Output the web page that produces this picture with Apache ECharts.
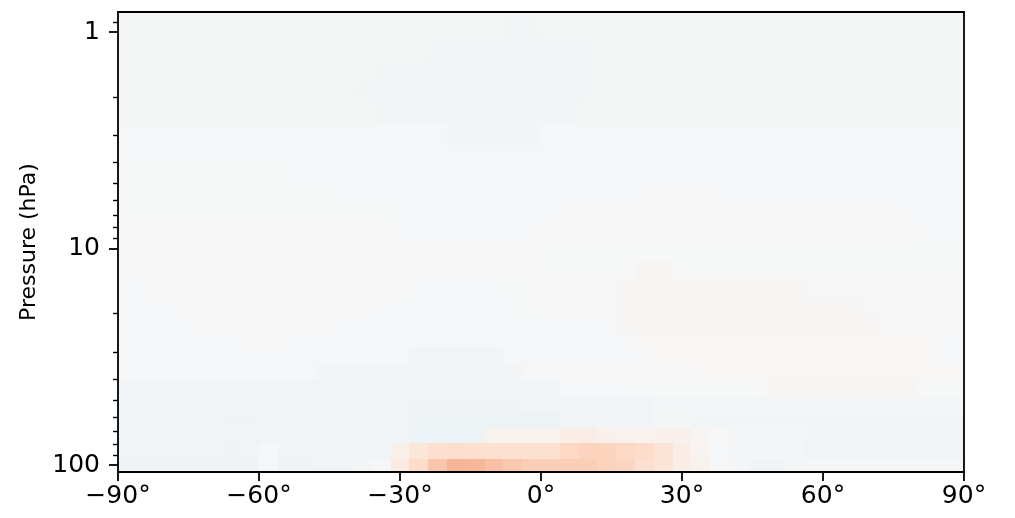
<!DOCTYPE html>
<html>
<head>
<meta charset="utf-8">
<script src="https://cdn.jsdelivr.net/npm/echarts@6/dist/echarts.min.js"></script>
<style>
html,body{margin:0;padding:0;background:#fff;}
#chart{width:1015px;height:518px;}
</style>
</head>
<body>
<div id="chart"></div>
<script>
// Latitude cell centres (degrees), 4° grid
const latCenters = [-90,-86,-82,-78,-74,-70,-66,-62,-58,-54,-50,-46,-42,-38,-34,-30,-26,-22,-18,-14,-10,-6,-2,2,6,10,14,18,22,26,30,34,38,42,46,50,54,58,62,66,70,74,78,82,86,90];
// Pressure level edges (hPa), top to bottom
const pressureEdges = [0.808,1.04,1.337,1.684,2.099,2.641,3.326,4.115,5.09,6.298,7.647,9.333,11.39,13.88,16.70,20.07,24.05,28.61,34.05,40.50,48.01,56.74,67.47,79.14,93.83,107.7];
// Axis tick values
const xTicks = [-90,-60,-30,0,30,60,90];
const yMajorTicks = [1,10,100];
const yMinorTicks = [0.9,2,3,4,5,6,7,8,9,20,30,40,50,60,70,80,90];
// Field values (x 1e-3), one row per pressure layer (top to bottom), one entry per latitude
const values = [
[-15,-15,-15,-15,-15,-15,-15,-15,-15,-15, -15,-15,-15,-15,-15,-15,-15,-15,-15,-15, -15,-28,-28,-15,-15,-15,-15,-15,-15,-15, -15,-15,-15,-15,-15,-15,-15,-15,-15,-15, -15,-15,-15,-15,-15,-15],
[-15,-15,-15,-15,-15,-15,-15,-15,-15,-15, -15,-15,-15,-15,-15,-15,-15,-28,-28,-28, -28,-28,-28,-28,-28,-28,-15,-15,-15,-15, -15,-15,-15,-15,-15,-15,-15,-15,-15,-15, -15,-15,-15,-15,-15,-15],
[-15,-15,-15,-15,-15,-15,-15,-15,-15,-15, -15,-15,-15,-15,-28,-28,-28,-28,-28,-28, -28,-28,-28,-28,-28,-28,-15,-15,-15,-15, -15,-15,-15,-15,-15,-15,-15,-15,-15,-15, -15,-15,-15,-15,-15,-15],
[-15,-15,-15,-15,-15,-15,-15,-15,-15,-15, -15,-15,-15,-28,-28,-28,-28,-28,-28,-28, -28,-28,-28,-28,-28,-28,-15,-15,-15,-15, -15,-15,-15,-15,-15,-15,-15,-15,-15,-15, -15,-15,-15,-15,-15,-15],
[-15,-15,-15,-15,-15,-15,-15,-15,-15,-15, -15,-15,-15,-15,-28,-28,-28,-28,-28,-28, -28,-28,-28,-28,-28,-15,-15,-15,-15,-15, -15,-15,-15,-15,-15,-15,-15,-15,-15,-15, -15,-15,-15,-15,-15,-15],
[-14,-14,-14,-14,-14,-14,-14,-14,-14,-14, -14,-14,-14,-14,-14,-14,-14,-14,-26,-26, -26,-26,-26,-14,-14,-14,-14,-14,-14,-14, -14,-14,-14,-14,-14,-14,-14,-14,-14,-14, -14,-14,-14,-14,-14,-14],
[-12,-12,-12,-12,-12,-12,-12,-12,-12,-12, -12,-12,-12,-12,-12,-12,-12,-12,-12,-12, -12,-12,-12,-12,-12,-12,-12,-12,-12,-12, -12,-12,-12,-12,-12,-12,-12,-12,-12,-12, -12,-12,-12,-12,-12,-12],
[-4,-4,-4,-4,-4,-4,-4,-4,-4,-12, -12,-12,-12,-12,-12,-12,-12,-12,-12,-12, -12,-12,-12,-12,-12,-12,-12,-12,-12,-12, -12,-12,-12,-12,-12,-12,-12,-12,-12,-12, -12,-12,-12,-12,-12,-12],
[-4,-4,-4,-4,-4,-4,-4,-4,-4,-4, -4,-4,-12,-12,-12,-12,-12,-12,-12,-12, -12,-12,-12,-12,-12,-12,-12,-12,-12,4, 4,4,-12,-12,-12,-12,-12,-12,-12,-12, -12,-12,-12,-12,-12,-12],
[-3,-3,-3,-3,-3,-3,-3,-3,-3,-3, -3,-3,-3,-3,-3,-12,-12,-12,-12,-12, -12,-12,-12,-12,4,4,4,4,4,4, 4,4,4,4,4,4,4,4,4,4, 4,4,-10,-10,-10,-10],
[-2,-2,-2,-2,-2,-2,-2,-2,-2,-2, -2,-2,-2,-2,-2,-10,-10,-10,-10,-10, -10,-10,-10,5,5,5,5,5,5,5, 5,5,5,5,5,5,5,5,5,5, 5,5,5,-8,-8,-8],
[-2,-2,-2,-2,-2,-2,-2,-2,-2,-2, -2,-2,-2,-2,-2,-2,-2,-2,-2,-2, -2,-2,-2,-4,-4,-4,-4,-4,-4,-4, -4,-4,-4,-4,-4,-4,-4,-4,-4,-4, -4,-4,-4,-4,-4,-4],
[-2,-2,-2,-2,-2,-2,-2,-2,-2,-2, -2,-2,-2,-2,-2,-2,-2,-2,-2,-2, -2,-2,-2,-4,-4,-4,-4,-4,12,12, -4,-4,-4,-4,-4,-4,-4,-4,-4,-4, -4,-4,-4,-4,-4,-4],
[-10,-10,-2,-2,-2,-2,-2,-2,-2,-2, -2,-2,-2,-2,-2,-2,-10,-10,-10,-10, -10,-4,-4,-6,-6,-6,-6,12,12,12, 12,12,12,12,12,12,12,-6,-6,-6, -6,-6,-6,-6,-6,-6],
[-10,-10,-10,-10,-2,-2,-2,-2,-2,-2, -2,-2,-2,-2,-10,-10,-10,-10,-10,-10, -10,-10,-4,-6,-6,-6,-6,12,12,12, 12,12,12,12,12,12,12,12,12,12, -6,-6,-6,-6,-6,-6],
[-10,-10,-10,-10,-10,-2,-2,-2,-2,-2, -2,-2,-10,-10,-10,-10,-10,-10,-10,-10, -10,-10,-10,-10,-10,-10,-10,12,12,12, 12,12,12,12,12,12,12,12,12,12, 12,-6,-6,-6,-6,-6],
[-12,-12,-12,-12,-12,-12,-12,-2,-2,-12, -12,-12,-12,-12,-12,-12,-12,-12,-12,-12, -12,-12,-12,-12,-12,-12,-12,-12,10,10, 10,10,10,10,10,10,10,10,10,10, 10,10,10,10,-8,-8],
[-14,-14,-14,-14,-14,-14,-14,-14,-14,-14, -14,-14,-14,-14,-14,-14,-30,-30,-30,-30, -30,-14,-14,-14,-14,-14,-14,-14,-14,8, 8,8,8,8,8,8,8,8,8,8, 8,8,8,8,-10,-10],
[-12,-12,-12,-12,-12,-12,-12,-12,-12,-12, -12,-28,-28,-28,-28,-28,-28,-28,-28,-28, -28,-28,-6,-6,-6,-6,-6,-6,-6,-6, -6,8,8,8,8,8,8,8,8,8, 8,8,8,8,8,8],
[-30,-30,-30,-30,-30,-30,-30,-30,-30,-30, -30,-30,-30,-30,-30,-30,-30,-30,-30,-30, -30,-30,-30,-30,-10,-10,-10,-10,-5,-5, -5,-5,-5,-5,-5,15,15,15,15,15, 15,15,15,-5,-5,-5],
[-30,-30,-30,-30,-30,-30,-30,-30,-30,-30, -30,-30,-30,-30,-30,-30,-42,-42,-42,-42, -42,-42,-30,-30,-30,-30,-30,-30,-30,-18, -18,-18,-18,-18,-18,-18,-18,-18,-18,-18, -18,-18,-18,-18,-18,-18],
[-30,-30,-30,-30,-30,-30,-42,-42,-30,-30, -30,-30,-30,-30,-30,-30,-55,-55,-55,-55, -55,-55,-55,-55,-30,-30,-30,-30,-30,-15, -15,-25,-25,-25,-25,-25,-25,-25,-25,-25, -25,-25,-25,-25,-25,-25],
[-30,-30,-30,-30,-30,-30,-30,-30,-30,-30, -30,-30,-30,-30,-30,-30,-58,-58,-58,-58, 35,35,35,35,70,80,50,40,40,50, 50,20,0,-18,-18,-18,-18,-28,-28,-28, -28,-28,-28,-28,-28,-28],
[-30,-30,-30,-30,-30,-30,-42,-30,-10,-32, -32,-32,-32,-32,-32,60,120,170,180,170, 160,160,160,160,210,230,230,210,190,140, 70,30,-10,-20,-20,-20,-20,-32,-32,-32, -32,-32,-32,-32,-32,-32],
[-40,-40,-45,-45,-45,-45,-50,-50,-10,-45, -45,-33,-33,-28,-8,90,190,280,340,330, 300,270,250,250,250,250,230,220,170,130, 70,35,0,-20,-30,-30,-20,-20,-20,-20, -20,-20,-20,-20,-20,-20]
];

const cells = [];
for (let r = 0; r < values.length; r++) {
  for (let k = 0; k < latCenters.length; k++) {
    cells.push([latCenters[k] - 2, latCenters[k] + 2, pressureEdges[r], pressureEdges[r + 1], values[r][k]]);
  }
}

const FONT = 'DejaVu Sans';
const LW = 1.8;
const chart = echarts.init(document.getElementById('chart'), null, {renderer: 'canvas'});
chart.setOption({
  animation: false,
  backgroundColor: '#ffffff',
  grid: {left: 118, right: 51, top: 12, bottom: 46, show: false},
  visualMap: {
    show: false, type: 'continuous', min: -1000, max: 1000, dimension: 4, seriesIndex: 0,
    inRange: {color: ['#053061','#2166ac','#4393c3','#92c5de','#d1e5f0','#f7f7f7','#fddbc7','#f4a582','#d6604d','#b2182b','#67001f']}
  },
  xAxis: [{
    type: 'value', min: -90, max: 90, interval: 30, position: 'bottom', z: 10,
    axisLine: {show: true, onZero: false, lineStyle: {color: '#000', width: LW}},
    axisTick: {show: true, inside: false, length: 9, lineStyle: {color: '#000', width: LW}, customValues: xTicks},
    axisLabel: {show: true, customValues: xTicks, formatter: v => String(v).replace('-', '\u2212') + '°', color: '#000', fontSize: 25, fontFamily: FONT, margin: 12},
    splitLine: {show: false}
  }, {
    type: 'value', min: -90, max: 90, position: 'top', z: 10,
    axisLine: {show: true, onZero: false, lineStyle: {color: '#000', width: LW}},
    axisTick: {show: false}, axisLabel: {show: false}, splitLine: {show: false}
  }],
  yAxis: [{
    type: 'log', logBase: 10, min: 0.808, max: 107.7, inverse: true, position: 'left', z: 10,
    name: 'Pressure (hPa)', nameLocation: 'middle', nameRotate: 90, nameGap: 78,
    nameTextStyle: {color: '#000', fontSize: 22, fontFamily: FONT},
    axisLine: {show: true, onZero: false, lineStyle: {color: '#000', width: LW}},
    axisTick: {show: true, inside: false, length: 9, lineStyle: {color: '#000', width: LW}, customValues: yMajorTicks},
    axisLabel: {show: true, customValues: yMajorTicks, color: '#000', fontSize: 25, fontFamily: FONT, margin: 18},
    splitLine: {show: false}
  }, {
    type: 'log', logBase: 10, min: 0.808, max: 107.7, inverse: true, position: 'left', z: 10,
    axisLine: {show: false, onZero: false},
    axisTick: {show: true, inside: false, length: 5, lineStyle: {color: '#000', width: 1.4}, customValues: yMinorTicks},
    axisLabel: {show: false}, splitLine: {show: false}
  }, {
    type: 'log', logBase: 10, min: 0.808, max: 107.7, inverse: true, position: 'right', z: 10,
    axisLine: {show: true, onZero: false, lineStyle: {color: '#000', width: LW}},
    axisTick: {show: false}, axisLabel: {show: false}, splitLine: {show: false}
  }],
  series: [{
    type: 'custom',
    xAxisIndex: 0, yAxisIndex: 0,
    clip: true,
    encode: {x: [0, 1], y: [2, 3]},
    data: cells,
    renderItem: function (params, api) {
      const a = api.coord([api.value(0), api.value(2)]);
      const b = api.coord([api.value(1), api.value(3)]);
      const x0 = Math.round(Math.min(a[0], b[0])), x1 = Math.round(Math.max(a[0], b[0]));
      const y0 = Math.round(Math.min(a[1], b[1])), y1 = Math.round(Math.max(a[1], b[1]));
      const cs = params.coordSys;
      const shape = echarts.graphic.clipRectByRect({x: x0, y: y0, width: x1 - x0, height: y1 - y0},
        {x: cs.x, y: cs.y, width: cs.width, height: cs.height});
      if (!shape) return;
      return {type: 'rect', shape: shape, style: {fill: api.visual('color')}};
    }
  }]
});
</script>
</body>
</html>
